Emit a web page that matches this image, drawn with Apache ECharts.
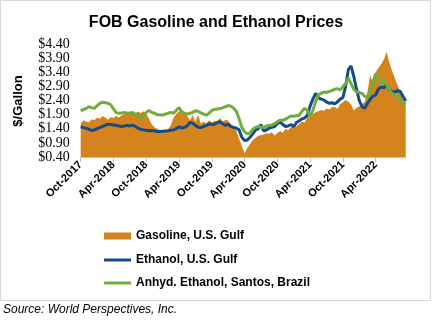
<!DOCTYPE html>
<html><head><meta charset="utf-8">
<script src="https://cdn.jsdelivr.net/npm/echarts@6/dist/echarts.min.js"></script>
<style>html,body{margin:0;padding:0;background:#fff}#c{width:432px;height:321px}</style>
</head><body><div id="c"></div>
<script>
// Semi-monthly observations, Oct 2017 .. Sep 2022
const startYear = 2017, startMonth = 9; // October (0-based)
const categories = [];
for (let i = 0; i < 120; i++) {
  const m = startMonth + Math.floor(i / 2);
  const y = startYear + Math.floor(m / 12);
  const mm = (m % 12) + 1;
  categories.push(y + '-' + String(mm).padStart(2, '0') + (i % 2 ? '-16' : '-01'));
}
const tickLabels = ['Oct-2017','Apr-2018','Oct-2018','Apr-2019','Oct-2019','Apr-2020','Oct-2020','Apr-2021','Oct-2021','Apr-2022'];
const yTicks = [0.40,0.90,1.40,1.90,2.40,2.90,3.40,3.90,4.40];

const gasoline = [
1.59,1.70,1.66,1.62,1.74,1.70,1.80,1.75,1.85,1.80,1.72,1.82,
1.78,1.85,1.80,1.88,1.92,2.00,1.98,2.02,1.95,2.00,1.96,2.02,
1.92,1.75,1.55,1.45,1.40,1.36,1.32,1.35,1.38,1.52,1.80,1.92,
2.02,1.98,1.95,1.85,1.70,1.88,1.65,1.90,1.58,1.65,1.58,1.70,
1.62,1.68,1.65,1.78,1.65,1.72,1.68,1.55,1.48,1.32,1.05,0.80,
0.53,0.72,0.85,1.00,1.08,1.14,1.18,1.20,1.24,1.22,1.28,1.15,
1.25,1.32,1.26,1.40,1.35,1.45,1.50,1.48,1.58,1.65,1.62,1.80,
1.88,1.92,1.98,2.02,2.06,2.04,2.12,2.08,2.16,2.18,2.10,2.28,
2.34,2.42,2.36,2.26,2.05,2.14,2.20,2.28,2.35,2.70,3.30,3.00,
3.40,3.55,3.68,3.85,4.12,3.75,3.45,3.20,2.95,2.70,2.45,2.25];

const ethanolUS = [
1.47,1.44,1.42,1.38,1.34,1.36,1.40,1.45,1.48,1.52,1.56,1.55,
1.53,1.52,1.50,1.47,1.50,1.52,1.50,1.53,1.48,1.42,1.38,1.36,
1.35,1.33,1.34,1.32,1.30,1.30,1.31,1.32,1.33,1.35,1.36,1.40,
1.47,1.42,1.45,1.50,1.62,1.60,1.52,1.45,1.44,1.48,1.52,1.58,
1.55,1.56,1.62,1.65,1.58,1.52,1.56,1.48,1.45,1.42,1.36,1.10,
0.98,1.00,1.10,1.22,1.35,1.40,1.55,1.32,1.36,1.42,1.45,1.48,
1.58,1.64,1.55,1.48,1.50,1.55,1.48,1.62,1.68,1.75,1.78,1.88,
2.20,2.45,2.65,2.50,2.45,2.42,2.35,2.30,2.32,2.28,2.35,2.45,
2.50,2.90,3.50,3.62,3.25,2.80,2.40,2.18,2.12,2.30,2.45,2.55,
2.60,2.80,2.88,2.85,2.95,2.78,2.72,2.70,2.75,2.72,2.55,2.38];

const ethanolBrazil = [
2.03,2.08,2.12,2.18,2.15,2.12,2.22,2.30,2.34,2.32,2.30,2.25,
2.10,1.97,1.95,1.96,1.98,1.95,1.96,1.97,1.92,1.85,1.78,1.85,
1.98,2.05,1.98,1.95,1.90,1.90,1.88,1.92,1.95,1.98,1.95,2.05,
2.15,2.00,1.95,1.92,1.95,1.98,2.04,2.02,1.96,1.92,1.88,1.95,
2.05,2.08,2.10,2.12,2.14,2.18,2.22,2.20,2.12,2.02,1.75,1.45,
1.30,1.22,1.25,1.38,1.45,1.48,1.46,1.44,1.50,1.52,1.53,1.58,
1.65,1.70,1.70,1.74,1.80,1.85,1.84,1.86,1.88,2.02,2.12,2.05,
1.85,2.05,2.35,2.60,2.65,2.70,2.68,2.72,2.75,2.80,2.82,2.78,
2.88,3.00,3.20,3.00,2.80,2.70,2.68,2.65,2.55,2.50,2.75,3.05,
3.35,3.10,2.95,3.10,2.95,2.80,2.65,2.60,2.55,2.42,2.30,2.35];

const seriesNames = ['Gasoline, U.S. Gulf','Ethanol, U.S. Gulf','Anhyd. Ethanol, Santos, Brazil'];
const colors = ['#D4831D','#124C8A','#72AC3E'];

const legendText = {fontFamily:'Liberation Sans, Arial',fontWeight:'bold',fontSize:12,color:'#000'};
function legendRow(name, top, h) {
  return {orient:'vertical',left:104,top:top,padding:0,itemWidth:27,itemHeight:h,
    icon:'rect',textStyle:legendText,data:[name],selectedMode:false};
}

const chart = echarts.init(document.getElementById('c'), null, {renderer:'canvas'});
chart.setOption({
  animation:false,
  backgroundColor:'#fff',
  title:{text:'FOB Gasoline and Ethanol Prices',left:'center',top:10,
    textStyle:{fontFamily:'Liberation Sans, Arial',fontWeight:'bold',fontSize:16,color:'#000'}},
  grid:{left:80.7,right:26.3,top:44,bottom:164},
  legend:[legendRow(seriesNames[0],230,7),legendRow(seriesNames[1],254,3),legendRow(seriesNames[2],277,3)],
  xAxis:{type:'category',data:categories,boundaryGap:false,
    axisLine:{lineStyle:{color:'#BFBFBF',width:1}},
    axisTick:{interval:11,length:5,lineStyle:{color:'#BFBFBF'}},
    axisLabel:{interval:11,rotate:45,margin:6,fontFamily:'Liberation Sans, Arial',fontWeight:'bold',fontSize:11,color:'#000',
      formatter:(v,i)=> i%12===0 ? tickLabels[i/12] : ''}},
  yAxis:{type:'value',min:yTicks[0],max:yTicks[yTicks.length-1],interval:0.5,
    axisLine:{show:false},axisTick:{show:false},splitLine:{show:false},
    axisLabel:{margin:11,fontFamily:'Liberation Serif, Times New Roman',fontSize:14,color:'#000',
      formatter:v=>'$'+v.toFixed(2)}},
  series:[
    {name:seriesNames[0],type:'line',data:gasoline,symbol:'none',color:colors[0],
      lineStyle:{width:0},areaStyle:{color:colors[0],opacity:1}},
    {name:seriesNames[1],type:'line',data:ethanolUS,symbol:'none',color:colors[1],
      lineStyle:{width:3,color:colors[1]}},
    {name:seriesNames[2],type:'line',data:ethanolBrazil,symbol:'none',color:colors[2],
      lineStyle:{width:3,color:colors[2]}}
  ],
  graphic:[
    {type:'rect',shape:{x:0.5,y:0.5,width:430,height:300},style:{fill:'none',stroke:'#D9D9D9',lineWidth:1},silent:true},
    {type:'text',rotation:Math.PI/2,x:18,y:101,style:{text:'$/Gallon',fontFamily:'Liberation Sans, Arial',fontWeight:'bold',fontSize:13,fill:'#000',align:'center',verticalAlign:'middle'}},
    {type:'text',x:3,y:310,style:{text:'Source: World Perspectives, Inc.',fontFamily:'Liberation Sans, Arial',fontStyle:'italic',fontSize:12,fill:'#000',align:'left',verticalAlign:'middle'}}
  ]
});
</script></body></html>
